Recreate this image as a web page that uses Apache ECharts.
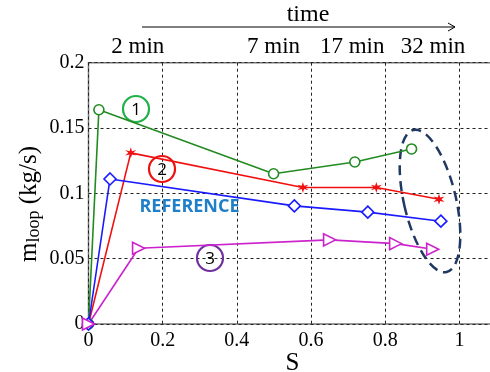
<!DOCTYPE html>
<html>
<head>
<meta charset="utf-8">
<script src="https://cdn.jsdelivr.net/npm/echarts@6/dist/echarts.min.js"></script>
<style>html,body{margin:0;padding:0;background:#fff}#c{width:490px;height:372px}</style>
</head>
<body>
<div id="c"></div>
<script>
// ---- data ----
var s1 = [0, 0.028, 0.499, 0.718, 0.871];
var m1 = [0, 0.164, 0.115, 0.124, 0.134];
var s2 = [0, 0.114, 0.578, 0.776, 0.945];
var m2 = [0, 0.131, 0.1045, 0.1045, 0.0955];
var sRef = [0, 0.058, 0.555, 0.753, 0.950];
var mRef = [0, 0.111, 0.0904, 0.0856, 0.0787];
var s3 = [0, 0.135, 0.650, 0.828, 0.928];
var m3 = [0, 0.058, 0.0644, 0.0615, 0.0572];
var xTicks = [0, 0.2, 0.4, 0.6, 0.8, 1];
var yTicks = [0, 0.05, 0.1, 0.15, 0.2];
var timeLabels = ['2 min', '7 min', '17 min', '32 min'];
var timePos = [0.133, 0.499, 0.711, 0.929];

function pairs(xs, ys) { return xs.map(function (x, i) { return [x, ys[i]]; }); }
var serif = 'Liberation Serif';
var chart = echarts.init(document.getElementById('c'));
var starPath = 'path://M0,-10L2,-3L9,-5L4,0L9,5L2,3L0,10L-2,3L-9,5L-4,0L-9,-5L-2,-3Z';

function lineSeries(name, data, color, symbol, size, hollow, rot) {
  return {
    name: name, type: 'line', data: data, symbol: symbol, symbolSize: size,
    symbolRotate: rot || 0, showAllSymbol: true, animation: false,
    lineStyle: { color: color, width: 1.6 },
    itemStyle: hollow ? { color: '#fff', borderColor: color, borderWidth: 1.6 } : { color: color }
  };
}

chart.setOption({
  animation: false,
  grid: { left: 88.5, top: 62.7, right: -6.5, bottom: 48, show: true, borderColor: '#777', borderWidth: 1.5,
    containLabel: false, outerBoundsMode: 'none' },
  xAxis: {
    type: 'value', min: 0, max: 1.1, interval: 0.2,
    name: 'S', nameLocation: 'middle', nameGap: 27, nameMoveOverlap: false,
    nameTextStyle: { fontFamily: serif, fontSize: 25, color: '#000', verticalAlign: 'top' },
    axisLine: { show: false }, axisTick: { show: false },
    axisLabel: { fontFamily: serif, fontSize: 20, color: '#000', margin: 7,
      formatter: function (v) { var r = Math.round(v * 10) / 10; return xTicks.indexOf(r) >= 0 ? String(r) : ''; } },
    splitLine: { show: true, lineStyle: { color: '#222', type: [3, 3], width: 1 } }
  },
  yAxis: {
    type: 'value', min: 0, max: 0.2, interval: 0.05,
    axisLine: { show: false }, axisTick: { show: false },
    axisLabel: { fontFamily: serif, fontSize: 20, color: '#000', margin: 4,
      formatter: function (v) { var r = Math.round(v * 100) / 100; return yTicks.indexOf(r) >= 0 ? String(r) : ''; } },
    splitLine: { show: true, lineStyle: { color: '#222', type: [3, 3], width: 1 } }
  },
  series: [
    lineSeries('1', pairs(s1, m1), '#228b22', 'circle', 10, true),
    lineSeries('2', pairs(s2, m2), '#f01010', starPath, 11, false),
    lineSeries('REF', pairs(sRef, mRef), '#1a1aff', 'diamond', 12, true),
    lineSeries('3', pairs(s3, m3), '#cc22cc', 'triangle', 12, true, -90)
  ]
});

var g = [];
timeLabels.forEach(function (t, i) {
  var p = chart.convertToPixel({ gridIndex: 0 }, [timePos[i], 0.2]);
  g.push({ type: 'text', x: p[0], y: 47, style: { text: t, font: '23px "Liberation Serif"', fill: '#000', align: 'center', verticalAlign: 'middle' } });
});
g.push({ type: 'text', x: 308, y: 15, style: { text: 'time', font: '24px "Liberation Serif"', fill: '#000', align: 'center', verticalAlign: 'middle' } });
g.push({ type: 'line', shape: { x1: 142, y1: 27, x2: 455, y2: 27 }, style: { stroke: '#000', lineWidth: 1 } });
g.push({ type: 'polyline', shape: { points: [[448, 23], [455, 27], [448, 31]] }, style: { stroke: '#000', lineWidth: 1, fill: null } });
g.push({ type: 'text', x: 29, y: 204, rotation: Math.PI / 2,
  style: { rich: { m: { font: '25px "Liberation Serif"', fill: '#000' }, s: { font: '18px "Liberation Serif"', fill: '#000', verticalAlign: 'bottom', padding: [10, 0, 0, 0] } },
    text: '{m|m}{s|loop}{m| (kg/s)}', align: 'center', verticalAlign: 'middle' } });
g.push({ type: 'text', x: 189.5, y: 207, style: { text: 'REFERENCE', font: 'bold 18px "Open Sans"', fill: '#1f7fc8', align: 'center', verticalAlign: 'middle' } });
[[136, 109, '1', '#22b04a'], [162, 169, '2', '#ee1111'], [210, 258, '3', '#7030a0']].forEach(function (c) {
  g.push({ type: 'circle', shape: { cx: c[0], cy: c[1], r: 13 }, style: { stroke: c[3], lineWidth: 2.2, fill: null } });
  g.push({ type: 'text', x: c[0], y: c[1] + 1, style: { text: c[2], font: '17px "Open Sans"', fill: '#000', align: 'center', verticalAlign: 'middle' } });
});
g.push({ type: 'ellipse', x: 430, y: 201, rotation: 0.23, shape: { cx: 0, cy: 0, rx: 26, ry: 73 },
  style: { stroke: '#1f3864', lineWidth: 2.5, lineDash: [10, 6], fill: null } });
chart.setOption({ graphic: g });
</script>
</body>
</html>
